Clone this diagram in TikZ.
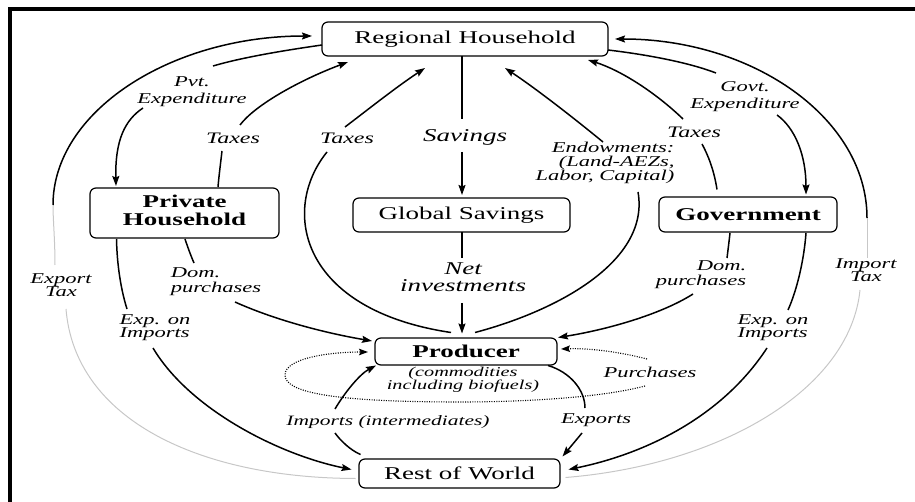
\documentclass[tikz,border=0pt]{standalone}
\usepackage{fontspec}
\setmainfont{Liberation Serif}
\usepackage{graphicx}
\usetikzlibrary{calc,arrows.meta}
\newcommand\sx[1]{\scalebox{1.5}[1]{#1}}
\newcommand\ml[2]{\begin{tabular}{@{}#1@{}}#2\end{tabular}}
\begin{document}
\begin{tikzpicture}[x=1pt,y=-1pt,
 box/.style={draw, line width=1.2pt, rounded corners=6pt, inner sep=0pt, font=\fontsize{18}{18}\selectfont},
 bold/.style={font=\bfseries\fontsize{18}{18}\selectfont},
 lab/.style={inner sep=0pt, font=\itshape\fontsize{15}{16}\selectfont},
 labm/.style={inner sep=0pt, font=\itshape\fontsize{16}{16}\selectfont},
 labl/.style={inner sep=0pt, font=\itshape\fontsize{18}{17}\selectfont},
 con/.style={line width=1.5pt},
 arr/.style={con, -{Stealth[length=10pt,width=7pt,inset=1.5pt]}},
 faint/.style={line width=1pt, draw=black!22},
 dot/.style={line width=1.1pt, dash pattern=on 1pt off 1.4pt, -{Stealth[length=9pt,width=6.5pt,inset=1.5pt]}}
]
\useasboundingbox (0,0) rectangle (915,502);
\fill (8,7) rectangle (915,11);
\fill (8,7) rectangle (12,502);

% boxes
\node[box, minimum width=286pt, minimum height=34pt] (RH) at (465,39) {\sx{Regional Household}};
\node[box, bold, minimum width=189pt, minimum height=50pt] (PH) at (184.5,213) {\sx{\ml{c}{Private\\Household}}};
\node[box, minimum width=217pt, minimum height=34pt] (GS) at (461.5,215) {\sx{Global Savings}};
\node[box, bold, minimum width=178pt, minimum height=35pt] (GOV) at (748,214.5) {\sx{Government}};
\node[box, bold, minimum width=182pt, minimum height=27pt] (PR) at (466,351.5) {\sx{Producer}};
\node[box, minimum width=201pt, minimum height=29pt] (ROW) at (459.5,473.5) {\sx{Rest of World}};

% labels
\node[lab, font=\itshape\fontsize{15}{17}\selectfont] (pvt) at (192,92) {\sx{\ml{c}{Pvt.\\Expenditure}}};
\node[labm] (tx1) at (233,138) {\sx{Taxes}};
\node[labm] (tx2) at (347,138) {\sx{Taxes}};
\node[labl] (sav) at (465,137) {\sx{Savings}};
\node[lab, font=\itshape\fontsize{15}{12.5}\selectfont] (endo) at (605,163) {\sx{\ml{r}{Endowments:\\(Land-AEZs,\\Labor, Capital)}}};
\node[labm] (tx3) at (694,132) {\sx{Taxes}};
\node[lab, font=\itshape\fontsize{15}{17}\selectfont] (gexp) at (745,97) {\sx{\ml{c}{Govt.\\Expenditure}}};
\node[labl] (net) at (463,280) {\sx{\ml{c}{Net\\investments}}};
\node[lab, font=\itshape\fontsize{15}{13}\selectfont] (dom1) at (216,282) {\sx{\ml{l}{Dom.\\purchases}}};
\node[lab, font=\itshape\fontsize{15}{13}\selectfont] (imp1) at (155,328) {\sx{\ml{l}{Exp. on\\Imports}}};
\node[lab, font=\itshape\fontsize{15}{13}\selectfont] (dom2) at (701,275) {\sx{\ml{r}{Dom.\\purchases}}};
\node[lab, font=\itshape\fontsize{15}{13}\selectfont] (imp2) at (773,328) {\sx{\ml{l}{Exp. on\\Imports}}};
\node[lab, font=\itshape\fontsize{15}{13}\selectfont] (etax) at (61,287) {\sx{\ml{c}{Export\\Tax}}};
\node[lab, font=\itshape\fontsize{15}{13}\selectfont] (itax) at (866,272) {\sx{\ml{c}{Import\\Tax}}};
\node[lab, font=\itshape\fontsize{14.3}{15}\selectfont] (imints) at (388,422) {\sx{Imports (intermediates)}};
\node[lab] (expo) at (596,420) {\sx{Exports}};
\node[lab] (purch) at (650,372) {\sx{Purchases}};
\node[lab, font=\itshape\fontsize{13.5}{12}\selectfont] (comm) at (463,380) {\sx{\ml{c}{(commodities\\including biofuels)}}};

% C1 Pvt expenditure
\draw[con] ($(RH)+(-143,6)$) .. controls (280,51) and (240,58) .. ($(pvt)+(21,-26)$);
\draw[arr] ($(pvt)+(-49,16)$) .. controls (125,120) and (115,140) .. ($(PH)+(-68.5,-27)$);
% C2 taxes PH
\draw[con] ($(PH)+(33.5,-26)$) .. controls (219,175) and (221,160) .. ($(tx1)+(-11,13)$);
\draw[arr] ($(tx1)+(7,-13)$) .. controls (255,105) and (300,80) .. ($(RH)+(-117,23)$);
% C3 taxes producer
\draw[con] ($(PR)+(-15,-19)$) .. controls (300,310) and (280,210) .. ($(tx2)+(-20,14)$);
\draw[arr] ($(tx2)+(-2,-11)$) .. controls (370,108) and (395,88) .. ($(RH)+(-40,29)$);
% C4 savings
\draw[con] ($(RH)+(-3,17)$) -- ($(sav)+(-3,-18)$);
\draw[arr] ($(sav)+(-3,15)$) -- ($(GS)+(0.5,-20)$);
% C5 net investments
\draw[con] ($(GS)+(0.5,17)$) -- ($(net)+(-1,-22)$);
\draw[arr] ($(net)+(-1,23)$) -- ($(PR)+(-4,-18)$);
% C6 endowments
\draw[con] ($(PR)+(9,-19)$) .. controls (560,310) and (650,260) .. ($(endo)+(33,29)$);
\draw[arr] ($(endo)+(-2,-21)$) .. controls (570,115) and (535,88) .. ($(RH)+(40,29)$);
% C7 taxes gov
\draw[con] ($(GOV)+(-31,-25)$) .. controls (714,170) and (708,155) .. ($(tx3)+(8,12)$);
\draw[arr] ($(tx3)+(-11,-13)$) .. controls (655,92) and (620,70) .. ($(RH)+(123,21)$);
% C8 govt expenditure
\draw[con] ($(RH)+(143,11)$) .. controls (650,55) and (690,63) .. ($(gexp)+(-29,-24)$);
\draw[arr] ($(gexp)+(32,18)$) .. controls (795,128) and (806,155) .. ($(GOV)+(58,-20)$);
% C9 dom purchases PH
\draw[con] ($(PH)+(0.5,26)$) .. controls (188,248) and (191,256) .. ($(dom1)+(-22,-19)$);
\draw[arr] ($(dom1)+(19,20)$) .. controls (275,320) and (325,333) .. ($(PR)+(-94,-10.5)$);
% C10 exp on imports PH
\draw[con] ($(PH)+(-68,26)$) .. controls (117,265) and (121,290) .. ($(imp1)+(-28,-19)$);
\draw[arr] ($(imp1)+(-2,20)$) .. controls (190,410) and (280,455) .. ($(ROW)+(-108,-4)$);
% C11 dom purchases gov
\draw[con] ($(GOV)+(-18,18.5)$) .. controls (729,242) and (728,250) .. ($(dom2)+(26,-17)$);
\draw[arr] ($(dom2)+(-8,19)$) .. controls (660,315) and (605,330) .. ($(PR)+(92,-14)$);
% C12 exp on imports gov
\draw[con] ($(GOV)+(58,18.5)$) .. controls (804,260) and (797,290) .. ($(imp2)+(15,-18)$);
\draw[arr] ($(imp2)+(-6,20)$) .. controls (720,420) and (640,455) .. ($(ROW)+(109,-4)$);
% C13 imports intermediates
\draw[con] ($(ROW)+(-99,-19)$) .. controls (350,450) and (340,440) .. ($(imints)+(-53,11)$);
\draw[arr] ($(imints)+(-53,-13)$) .. controls (345,392) and (360,374) .. ($(PR)+(-90,14)$);
% C14 exports
\draw[con] ($(PR)+(82,14)$) .. controls (570,372) and (585,390) .. ($(expo)+(-11,-12)$);
\draw[arr] ($(expo)+(-14,13)$) -- ($(ROW)+(103,-17)$);
% C15 purchases
\draw[dot] ($(purch)+(-3,-13)$) .. controls (620,352) and (590,348) .. ($(PR)+(95,-2.5)$);
\draw[dot] ($(purch)+(-5,14)$) .. controls (600,398) and (520,402) .. (460,402) .. controls (330,402) and (285,392) .. (285,375) .. controls (285,358) and (330,352) .. ($(PR)+(-98,0.5)$);
% export tax
\coordinate (ej) at (53,205);
\draw[faint] ($(ROW)+(-104,5)$) .. controls (200,478) and (75,420) .. ($(etax)+(5,22)$);
\draw[faint] ($(etax)+(-6,-22)$) .. controls (55,240) and (53,220) .. (ej);
\draw[arr] (ej) .. controls (53,112) and (170,36) .. ($(RH)+(-153,-3)$);
% import tax
\coordinate (ij) at (867,218);
\draw[faint] ($(ROW)+(106,4)$) .. controls (720,465) and (850,390) .. ($(itax)+(-6,18)$);
\draw[faint] ($(itax)+(1,-14)$) -- (ij);
\draw[arr] (ij) .. controls (867,119) and (754,39) .. ($(RH)+(150,0)$);
\end{tikzpicture}
\end{document}
